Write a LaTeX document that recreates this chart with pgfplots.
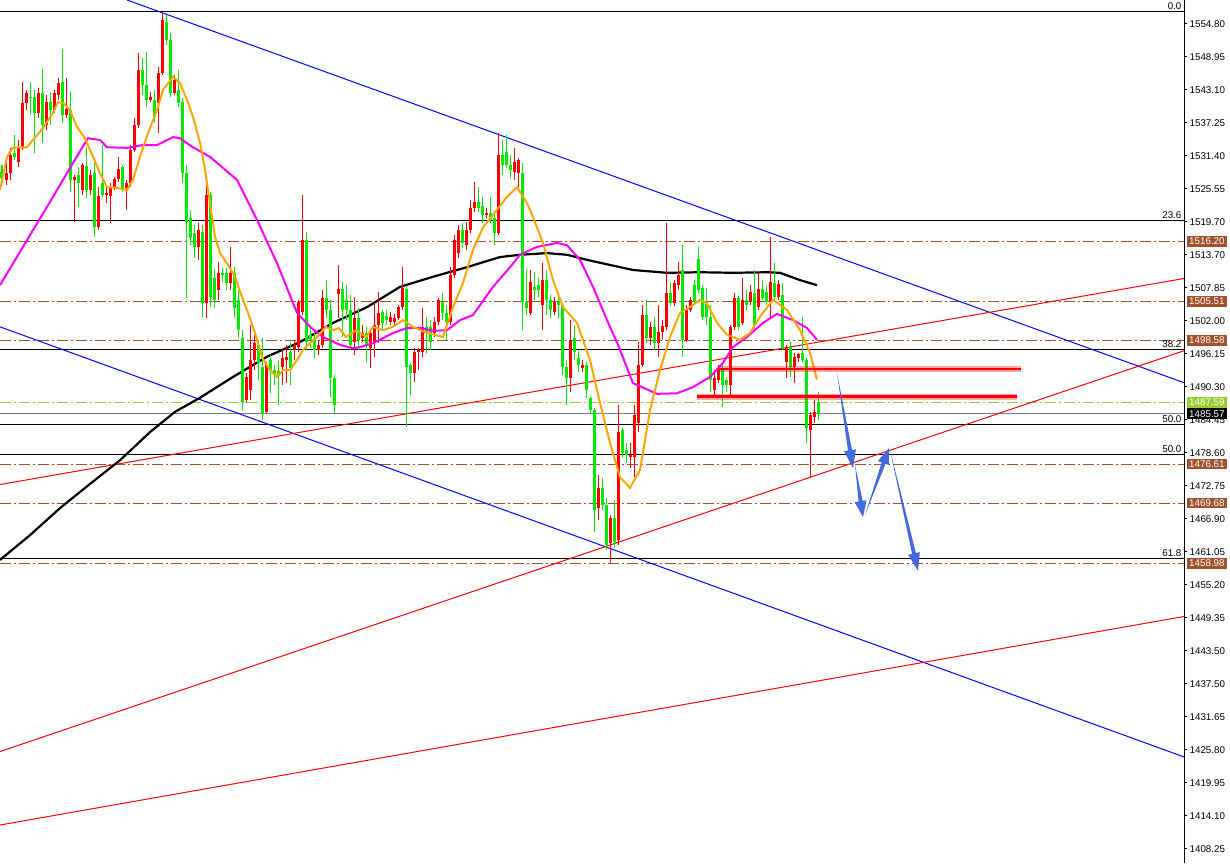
\documentclass[border=0pt]{standalone}
\usepackage{pgfplots}
\usepackage{pgfplotstable}
\pgfplotsset{compat=1.18}
\usepackage{fontspec}
\setmainfont{Liberation Sans}
\definecolor{cred}{RGB}{255,0,0}
\definecolor{cgreen}{RGB}{0,235,0}
\definecolor{corange}{RGB}{255,165,0}
\definecolor{cmag}{RGB}{255,0,255}
\definecolor{cbrown}{RGB}{160,82,45}
\definecolor{cyg}{RGB}{154,205,50}
\definecolor{cgray}{RGB}{120,130,140}
\definecolor{carrow}{RGB}{65,105,225}
\definecolor{cblue}{RGB}{0,0,255}

% bullish candles (red): x open high low close
\pgfplotstableread{
x o h l c
6 1527.1 1530.3 1526.2 1528.3
10 1528.3 1532.8 1527.1 1531.5
18 1530.3 1534.2 1529.4 1532.9
22 1532.9 1544.5 1532.4 1540.8
26 1540.8 1543.1 1539.5 1542.5
38 1539.0 1543.4 1538.1 1542.5
46 1536.9 1542.2 1536.0 1541.0
54 1539.5 1543.1 1539.0 1542.5
58 1542.2 1545.2 1541.3 1544.3
66 1538.6 1545.2 1538.1 1539.7
74 1527.1 1528.0 1519.6 1527.6
82 1525.3 1530.1 1524.4 1529.8
90 1525.3 1528.9 1524.4 1528.0
98 1518.7 1525.8 1518.2 1524.2
106 1524.4 1525.8 1523.0 1524.8
110 1524.2 1526.6 1519.4 1525.7
114 1525.7 1527.6 1525.3 1527.3
118 1527.3 1531.2 1526.7 1529.0
126 1525.7 1527.1 1521.8 1526.6
130 1526.6 1533.3 1525.8 1532.4
134 1532.4 1538.1 1532.1 1536.9
138 1536.9 1549.6 1536.3 1546.6
150 1541.3 1542.7 1540.9 1541.8
158 1540.8 1547.2 1535.4 1546.1
162 1546.1 1557.0 1545.7 1555.5
174 1542.5 1545.7 1542.2 1544.9
198 1515.2 1519.4 1512.9 1518.2
206 1505.2 1527.6 1502.6 1524.4
218 1507.5 1512.5 1505.8 1510.6
230 1508.8 1515.2 1507.5 1510.6
246 1488.0 1492.8 1487.5 1492.1
250 1489.8 1501.3 1488.0 1495.1
254 1495.1 1499.6 1493.3 1498.1
266 1485.9 1494.8 1485.7 1494.2
282 1493.9 1496.9 1490.7 1495.5
286 1495.1 1497.8 1491.0 1495.7
294 1496.9 1498.7 1495.1 1497.8
298 1497.4 1505.8 1496.5 1505.4
302 1503.6 1524.4 1503.1 1516.4
318 1496.9 1498.7 1496.0 1497.8
322 1497.8 1507.5 1497.2 1506.1
338 1506.8 1512.0 1502.6 1507.7
354 1498.3 1506.3 1496.0 1502.6
362 1499.0 1501.3 1498.3 1499.9
370 1497.2 1500.4 1493.7 1499.9
374 1498.1 1505.2 1495.7 1501.3
378 1501.3 1507.2 1498.1 1503.5
390 1501.9 1503.6 1501.3 1502.8
394 1501.9 1503.3 1501.3 1502.6
398 1502.6 1504.9 1502.2 1504.5
402 1504.5 1511.6 1504.0 1507.9
414 1492.8 1497.2 1491.2 1496.5
418 1496.5 1497.2 1493.3 1496.9
422 1496.5 1504.3 1495.7 1501.0
434 1499.9 1502.8 1499.2 1501.9
438 1501.9 1506.1 1501.3 1505.8
450 1501.9 1511.6 1501.3 1510.2
454 1510.2 1517.3 1509.7 1516.4
458 1514.1 1519.1 1513.2 1518.2
466 1515.5 1519.6 1514.7 1518.2
470 1518.2 1523.5 1517.7 1522.1
474 1522.1 1526.7 1521.4 1523.2
486 1520.9 1522.1 1520.3 1521.2
498 1517.7 1535.4 1517.3 1531.5
514 1528.5 1532.8 1527.1 1530.3
518 1528.3 1531.0 1525.8 1530.6
530 1503.5 1511.1 1503.1 1509.0
542 1504.9 1512.3 1500.4 1509.3
554 1503.6 1506.3 1503.1 1505.4
570 1491.9 1502.2 1489.4 1498.7
582 1493.7 1495.1 1493.0 1494.2
598 1468.8 1474.7 1466.7 1472.4
610 1462.6 1467.6 1459.1 1467.0
618 1463.1 1487.1 1462.2 1482.3
630 1477.9 1480.4 1476.0 1478.2
634 1477.9 1487.1 1474.3 1485.4
638 1483.9 1498.3 1482.3 1494.2
642 1494.2 1504.9 1493.9 1503.1
650 1499.0 1501.9 1497.8 1501.0
658 1498.1 1504.9 1495.7 1500.1
662 1500.1 1502.2 1498.7 1501.2
666 1501.0 1519.4 1500.4 1507.0
674 1505.2 1509.3 1504.7 1508.8
678 1508.4 1512.5 1507.5 1510.2
686 1498.7 1504.9 1498.3 1504.0
690 1504.0 1506.3 1503.6 1505.8
714 1489.8 1493.3 1488.9 1491.9
718 1491.6 1494.2 1491.0 1493.3
730 1490.7 1501.3 1488.9 1501.0
734 1501.0 1507.0 1500.4 1506.1
742 1501.7 1509.7 1501.3 1505.8
750 1505.4 1508.4 1504.9 1507.2
758 1504.5 1510.6 1504.0 1507.7
770 1505.4 1517.0 1502.8 1509.0
778 1506.3 1509.3 1505.8 1508.6
786 1494.8 1497.8 1491.9 1497.4
794 1493.9 1496.4 1491.0 1495.7
798 1495.5 1496.4 1494.8 1496.2
810 1482.7 1485.9 1474.3 1485.4
814 1485.0 1488.0 1483.9 1485.9
}\redtab

% bearish candles (green): x open high low close
\pgfplotstableread{
x o h l c
2 1528.5 1529.8 1526.5 1527.4
14 1531.9 1535.1 1530.6 1531.2
30 1541.8 1544.5 1538.6 1541.6
34 1541.8 1543.1 1531.9 1539.0
42 1542.5 1546.8 1533.7 1536.9
50 1541.0 1542.7 1536.9 1539.5
62 1544.5 1550.4 1537.2 1538.6
70 1539.5 1542.7 1525.0 1527.1
78 1528.0 1529.4 1522.3 1526.6
86 1529.6 1532.9 1523.9 1525.3
94 1528.3 1530.1 1517.0 1518.7
102 1526.6 1533.3 1524.1 1524.4
122 1529.4 1529.8 1525.0 1525.7
142 1546.6 1548.8 1542.2 1544.0
146 1544.0 1549.8 1540.1 1541.3
154 1541.3 1543.1 1537.2 1538.3
166 1555.2 1556.4 1551.1 1552.0
170 1552.0 1553.2 1541.8 1542.5
178 1543.1 1546.6 1540.1 1540.8
182 1541.0 1541.7 1526.6 1528.3
186 1528.3 1529.8 1506.1 1519.6
190 1520.3 1521.8 1515.5 1516.8
194 1517.7 1519.1 1513.2 1515.2
202 1517.9 1519.1 1502.7 1505.2
210 1524.4 1525.0 1504.5 1506.3
214 1509.7 1511.1 1504.3 1505.8
222 1510.6 1511.5 1509.0 1510.2
226 1510.6 1511.5 1507.5 1508.8
234 1510.6 1511.6 1502.6 1504.4
238 1505.8 1507.5 1499.0 1500.4
242 1499.0 1500.4 1486.2 1487.7
258 1497.8 1498.7 1491.6 1494.6
262 1493.9 1499.0 1484.5 1485.7
270 1495.1 1496.0 1489.2 1493.3
274 1493.3 1494.2 1490.7 1492.4
278 1493.2 1495.1 1487.1 1492.3
290 1496.5 1498.3 1490.7 1493.7
306 1516.4 1517.9 1496.9 1498.3
310 1499.6 1501.3 1497.2 1498.7
314 1498.7 1500.4 1495.5 1496.9
326 1506.1 1509.3 1502.6 1504.0
330 1504.0 1505.8 1488.5 1491.9
334 1491.9 1492.4 1485.7 1487.1
342 1507.7 1509.0 1499.2 1504.0
346 1505.8 1508.4 1502.2 1504.0
350 1504.0 1506.7 1496.9 1497.8
358 1502.6 1504.3 1496.9 1498.7
366 1499.9 1501.0 1494.8 1497.8
382 1503.6 1504.0 1500.4 1501.7
386 1502.9 1504.0 1501.3 1502.2
406 1507.7 1508.1 1483.2 1493.9
410 1494.2 1494.6 1488.9 1492.8
426 1501.0 1502.8 1496.4 1500.1
430 1501.0 1502.2 1496.9 1498.3
442 1505.4 1507.0 1502.2 1503.5
446 1503.5 1504.9 1498.7 1501.9
462 1518.2 1519.4 1515.0 1515.9
478 1523.2 1525.8 1521.4 1522.1
482 1522.5 1524.1 1519.4 1520.9
490 1521.2 1524.1 1519.4 1520.0
494 1520.3 1521.2 1515.5 1517.7
502 1531.5 1534.2 1528.0 1529.8
506 1532.1 1535.1 1529.2 1529.8
510 1529.8 1531.5 1527.4 1528.9
522 1528.3 1530.1 1500.4 1505.4
526 1505.4 1511.1 1503.1 1504.3
534 1508.1 1510.7 1505.8 1507.5
538 1508.4 1509.7 1506.3 1507.5
546 1509.3 1511.1 1503.1 1505.8
550 1505.8 1506.7 1502.6 1504.0
558 1505.4 1506.1 1502.6 1504.9
562 1504.9 1505.2 1492.4 1493.9
566 1493.9 1495.1 1487.1 1491.9
574 1499.0 1501.3 1495.1 1496.5
578 1495.5 1496.9 1493.0 1494.2
586 1494.2 1494.8 1488.4 1489.8
590 1488.4 1488.5 1485.7 1486.2
594 1486.2 1486.6 1464.6 1468.5
602 1472.4 1474.2 1468.5 1469.4
606 1469.4 1470.6 1461.4 1462.2
614 1467.0 1470.2 1461.7 1462.8
622 1482.7 1483.0 1477.9 1478.6
626 1479.1 1480.4 1476.8 1478.2
646 1503.1 1505.8 1498.1 1499.0
654 1501.0 1502.8 1496.9 1498.1
670 1507.0 1509.0 1504.7 1505.2
682 1511.1 1515.5 1495.7 1498.7
694 1508.4 1509.3 1504.9 1505.4
698 1513.1 1515.2 1507.0 1507.5
702 1507.9 1508.4 1502.2 1502.8
706 1505.2 1507.9 1501.3 1502.8
710 1502.8 1504.9 1489.4 1491.6
722 1493.3 1494.2 1486.8 1490.7
726 1491.6 1492.1 1489.4 1490.7
738 1506.1 1506.5 1500.4 1501.0
746 1505.8 1507.5 1504.0 1504.9
754 1507.0 1511.1 1500.4 1501.3
762 1507.7 1509.3 1505.8 1506.1
766 1507.2 1508.4 1504.9 1505.4
774 1508.8 1512.3 1505.8 1506.3
782 1506.7 1508.8 1496.9 1497.2
790 1497.4 1498.3 1492.1 1493.9
802 1496.4 1502.8 1494.8 1495.1
806 1495.1 1495.5 1480.4 1483.0
818 1487.7 1489.5 1484.5 1485.57
}\greentab

\begin{document}
\begin{tikzpicture}
\begin{axis}[
  at={(0,0)}, anchor=south west,
  scale only axis, width=592pt, height=431.5pt,
  xmin=0, xmax=1184, ymin=1405.76, ymax=1559.06,
  axis x line=none, axis y line*=right,
  axis line style={line width=0.5pt, black},
  tick align=outside, major tick length=1.6pt,
  tick style={black, line width=0.5pt},
  ytick={1408.25,1414.112,1419.974,1425.836,1431.698,1437.56,1443.422,1449.284,1455.146,1461.008,1466.87,1472.732,1478.594,1484.456,1490.318,1496.18,1502.042,1507.904,1513.766,1519.628,1525.49,1531.352,1537.214,1543.076,1548.938,1554.80},
  yticklabels={1408.25,1414.10,1419.95,1425.80,1431.65,1437.50,1443.50,1449.35,1455.20,1461.05,1466.90,1472.75,1478.60,1484.45,1490.30,1496.15,1502.00,1507.85,1513.70,1519.70,1525.55,1531.40,1537.25,1543.10,1548.95,1554.80},
  yticklabel style={font=\fontsize{4.9}{5.5}\selectfont, inner xsep=1pt},
  clip mode=individual,
]
% fibonacci levels
\addplot[black, line width=0.5pt] coordinates {(0,1557.05) (1184,1557.05)};
\addplot[black, line width=0.5pt] coordinates {(0,1519.98) (1184,1519.98)};
\addplot[black, line width=0.5pt] coordinates {(0,1497.01) (1184,1497.01)};
\addplot[black, line width=0.5pt] coordinates {(0,1483.69) (1184,1483.69)};
\addplot[black, line width=0.5pt] coordinates {(0,1478.41) (1184,1478.41)};
\addplot[black, line width=0.5pt] coordinates {(0,1459.88) (1184,1459.88)};
% dash-dot levels
\addplot[cbrown, line width=0.5pt, dash pattern=on 5.5pt off 1.5pt on 1pt off 1.5pt] coordinates {(0,1516.20) (1184,1516.20)};
\addplot[cbrown, line width=0.5pt, dash pattern=on 5.5pt off 1.5pt on 1pt off 1.5pt] coordinates {(0,1505.51) (1184,1505.51)};
\addplot[cbrown, line width=0.5pt, dash pattern=on 5.5pt off 1.5pt on 1pt off 1.5pt] coordinates {(0,1498.58) (1184,1498.58)};
\addplot[cbrown, line width=0.5pt, dash pattern=on 5.5pt off 1.5pt on 1pt off 1.5pt] coordinates {(0,1476.61) (1184,1476.61)};
\addplot[cbrown, line width=0.5pt, dash pattern=on 5.5pt off 1.5pt on 1pt off 1.5pt] coordinates {(0,1469.68) (1184,1469.68)};
\addplot[cbrown, line width=0.5pt, dash pattern=on 5.5pt off 1.5pt on 1pt off 1.5pt] coordinates {(0,1458.98) (1184,1458.98)};
\addplot[cyg, line width=0.5pt, dash pattern=on 5.5pt off 1.5pt on 1pt off 1.5pt] coordinates {(0,1487.59) (1184,1487.59)};
\addplot[cgray, line width=0.5pt] coordinates {(0,1485.57) (1184,1485.57)};
% trend lines
\addplot[cblue, line width=0.5pt] coordinates {(127,1559.06) (1184,1491.08)};
\addplot[cblue, line width=0.5pt] coordinates {(0,1501.0) (1184,1424.6)};
\addplot[cred, line width=0.5pt] coordinates {(0,1472.99) (1184,1509.59)};
\addplot[cred, line width=0.5pt] coordinates {(0,1425.56) (1184,1496.76)};
\addplot[cred, line width=0.5pt] coordinates {(0,1412.51) (1184,1449.55)};
% MA black
\addplot[black, line width=1.1pt] coordinates {(0,1459.6) (30,1464.0) (60,1468.8) (90,1473.1) (120,1477.3) (150,1482.3) (175,1485.9) (200,1488.4) (233,1492.1) (267,1495.7) (300,1498.3) (333,1501.7) (367,1504.5) (400,1508.1) (433,1509.9) (467,1511.6) (500,1513.4) (520,1513.8) (547,1514.1) (567,1513.8) (587,1512.9) (620,1511.6) (633,1511.1) (667,1510.6) (700,1510.7) (733,1510.6) (767,1510.7) (780,1510.6) (800,1509.3) (817,1508.4)};
% candles: wicks and bodies
\addplot[cred, line width=0.5pt, mark=none, quiver={u=0, v=\thisrow{h}-\thisrow{l}}] table[x=x, y=l] {\redtab};
\addplot[cred, line width=1.5pt, mark=none, quiver={u=0, v=\thisrow{c}-\thisrow{o}}] table[x=x, y=o] {\redtab};
\addplot[cgreen, line width=0.5pt, mark=none, quiver={u=0, v=\thisrow{h}-\thisrow{l}}] table[x=x, y=l] {\greentab};
\addplot[cgreen, line width=1.5pt, mark=none, quiver={u=0, v=\thisrow{o}-\thisrow{c}}] table[x=x, y=c] {\greentab};
% MA magenta
\addplot[cmag, line width=1pt] coordinates {(0,1508.4) (27,1516.4) (50,1523.2) (67,1528.3) (80,1532.2) (88,1534.5) (100,1534.2) (107,1532.9) (127,1532.8) (143,1533.3) (157,1533.3) (173,1534.7) (180,1534.5) (193,1532.9) (210,1531.2) (237,1527.1) (257,1520.0) (277,1512.3) (297,1503.5) (310,1501.0) (323,1499.2) (340,1497.8) (353,1497.2) (360,1497.4) (373,1498.1) (393,1499.9) (407,1500.8) (420,1500.8) (433,1500.3) (447,1500.4) (460,1502.2) (473,1503.1) (493,1508.1) (510,1511.6) (520,1513.8) (537,1515.2) (557,1515.9) (567,1515.5) (580,1512.9) (593,1508.1) (607,1502.2) (618,1497.8) (633,1491.0) (657,1489.1) (677,1489.2) (693,1490.3) (710,1492.1) (723,1494.6) (733,1497.4) (747,1499.2) (763,1501.7) (777,1503.3) (793,1502.2) (807,1500.8) (817,1498.7)};
% MA orange
\addplot[corange, line width=1pt] coordinates {(0,1525.3) (7,1531.2) (13,1532.9) (27,1532.9) (33,1534.2) (43,1536.3) (53,1539.0) (58,1540.9) (63,1540.8) (70,1539.5) (77,1536.5) (85,1534.5) (93,1531.2) (100,1528.3) (107,1525.8) (117,1525.7) (127,1525.3) (133,1527.1) (140,1531.2) (148,1535.4) (157,1539.5) (163,1543.1) (173,1545.4) (180,1544.3) (187,1541.3) (193,1538.3) (200,1533.7) (205,1528.9) (210,1523.0) (215,1517.0) (220,1514.1) (228,1512.0) (235,1509.9) (242,1506.3) (248,1503.5) (255,1499.9) (262,1495.6) (270,1493.3) (277,1492.1) (283,1493.3) (290,1493.3) (297,1495.1) (303,1496.9) (310,1498.1) (317,1499.2) (326,1501.0) (333,1500.4) (339,1500.8) (346,1499.2) (356,1500.4) (366,1499.2) (373,1501.0) (383,1500.4) (393,1501.0) (403,1502.2) (413,1501.0) (427,1499.9) (443,1499.2) (453,1504.5) (463,1508.8) (473,1514.7) (483,1518.7) (497,1521.8) (507,1524.1) (517,1525.8) (527,1523.0) (533,1520.5) (543,1515.9) (553,1509.3) (563,1504.5) (577,1501.7) (590,1495.1) (600,1487.5) (610,1480.4) (620,1474.3) (630,1472.4) (640,1475.6) (650,1486.2) (660,1493.3) (670,1499.2) (680,1503.5) (690,1504.5) (700,1505.8) (707,1505.2) (717,1501.7) (727,1499.6) (740,1498.7) (750,1499.9) (760,1502.8) (773,1505.8) (787,1504.0) (800,1500.4) (810,1496.4) (817,1491.6)};
% thick red levels
\addplot[cred, opacity=0.35, line width=3pt] coordinates {(718,1493.5) (1021,1493.5)};
\addplot[cred, line width=1.3pt] coordinates {(718,1493.5) (1021,1493.5)};
\addplot[cred, opacity=0.35, line width=3pt] coordinates {(697,1488.6) (1017,1488.6)};
\addplot[cred, line width=1.3pt] coordinates {(697,1488.6) (1017,1488.6)};
% scenario arrows
\addplot[fill=carrow, draw=none] coordinates {(837,1492.80) (852.0,1479.12) (855.9,1479.25) (853,1475.92) (844.1,1478.89) (848.0,1479.02)} --cycle;
\addplot[fill=carrow, draw=none] coordinates {(855,1476.46) (862.6,1470.08) (866.5,1470.19) (863,1467.22) (854.7,1469.87) (858.6,1469.97)} --cycle;
\addplot[fill=carrow, draw=none] coordinates {(865,1467.58) (885.5,1476.67) (889.2,1476.44) (889,1479.48) (877.9,1477.15) (881.7,1476.92)} --cycle;
\addplot[fill=carrow, draw=none] coordinates {(890,1479.12) (915.9,1460.83) (919.8,1460.97) (918,1457.63) (908.2,1460.51) (912.1,1460.67)} --cycle;
% fib texts
\tikzset{fl/.style={anchor=south east, inner sep=0.6pt, font=\fontsize{4.9}{5.5}\selectfont}}
\node[fl] at (axis cs:1183,1557.05) {0.0};
\node[fl] at (axis cs:1183,1519.98) {23.6};
\node[fl] at (axis cs:1183,1497.01) {38.2};
\node[fl] at (axis cs:1183,1483.69) {50.0};
\node[fl] at (axis cs:1183,1478.41) {50.0};
\node[fl] at (axis cs:1183,1459.88) {61.8};
% price boxes
\tikzset{pb/.style={anchor=west, xshift=1.2pt, text=white, inner xsep=1.2pt, inner ysep=0.9pt, text height=3.5pt, text depth=0pt, font=\fontsize{4.9}{5.5}\selectfont}}
\node[pb, fill=cbrown] at (axis cs:1184,1516.20) {1516.20};
\node[pb, fill=cbrown] at (axis cs:1184,1505.51) {1505.51};
\node[pb, fill=cbrown] at (axis cs:1184,1498.58) {1498.58};
\node[pb, fill=cyg] at (axis cs:1184,1487.59) {1487.59};
\node[pb, fill=black] at (axis cs:1184,1485.57) {1485.57};
\node[pb, fill=cbrown] at (axis cs:1184,1476.61) {1476.61};
\node[pb, fill=cbrown] at (axis cs:1184,1469.68) {1469.68};
\node[pb, fill=cbrown] at (axis cs:1184,1458.98) {1458.98};
\end{axis}
\pgfresetboundingbox
\useasboundingbox (0,0) rectangle (615pt,431.5pt);
\end{tikzpicture}
\end{document}
